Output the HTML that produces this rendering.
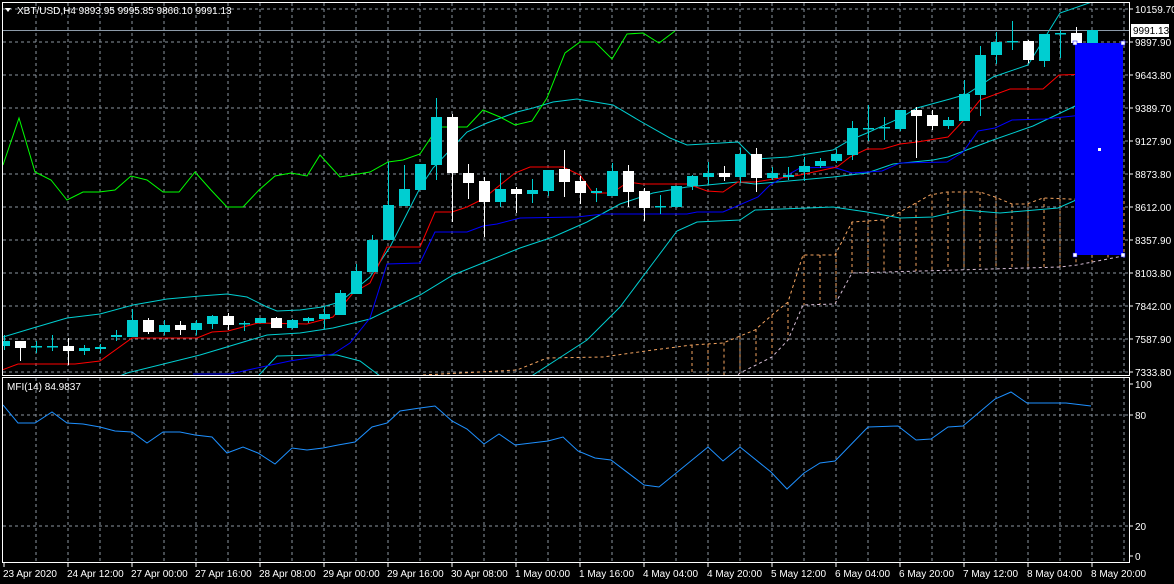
<!DOCTYPE html>
<html><head><meta charset="utf-8"><style>
html,body{margin:0;padding:0;background:#000;}
svg{display:block;}
text{font-family:"Liberation Sans",sans-serif;font-size:10px;fill:#fff;}
</style></head><body>
<svg id="c" width="1174" height="584" xmlns="http://www.w3.org/2000/svg"></svg>
<script>
const S=document.getElementById('c');let h='';
h+='<rect x="0" y="0" width="1174" height="584" fill="#000"/>';
const gy=[9,42,75,108,141,174,207,240,273,306,339,372];
const gl=['10159.70','9897.90','9643.80','9389.70','9127.90','8873.80','8612.00','8357.90','8103.80','7842.00','7587.90','7333.80'];
let g='';
for(const y of gy) g+=`M3 ${y}H1129`;
for(let n=1;n<=35;n++){let x=4+32*n;g+=`M${x} 3V375M${x} 378V562`;}
for(const y of [415,526]) g+=`M3 ${y}H1129`;
h+=`<path d="${g}" stroke="#8c96a0" stroke-width="1" stroke-dasharray="3,3" fill="none"/>`;
gy.forEach((y,i)=>{h+=`<line x1="1129" y1="${y}" x2="1133" y2="${y}" stroke="#fff"/><text x="1135" y="${y+4}">${gl[i]}</text>`;});
[[384,'100'],[415,'80'],[526,'20'],[556,'0']].forEach(([y,t])=>{h+=`<line x1="1129" y1="${y}" x2="1133" y2="${y}" stroke="#fff"/><text x="1135" y="${y+4}">${t}</text>`;});
const A=[[423,375],[517,370],[547,358],[603,357],[653,350],[692,345],[723,343],[755,330],[772,315],[788,302],[803,255],[835,255],[852,222],[883,220],[900,212],[930,195],[947,192],[980,192],[995,197],[1012,204],[1027,204],[1043,198],[1123,201]];
const B=[[690,420],[740,373],[772,357],[788,340],[803,305],[835,304],[852,273],[1060,267],[1077,265],[1123,256]];
function interp(P,x){if(x<=P[0][0])return P[0][1];for(let i=1;i<P.length;i++){if(x<=P[i][0]){const [x0,y0]=P[i-1],[x1,y1]=P[i];return y0+(y1-y0)*(x-x0)/(x1-x0);}}return P[P.length-1][1];}
let v='';
for(let x=692;x<=1124;x+=16){const a=interp(A,x),b=Math.min(interp(B,x),376);if(b>a)v+=`M${x} ${a}V${b}`;}
h+='<defs><clipPath id="cp"><rect x="3" y="3" width="1126" height="372"/></clipPath><clipPath id="cp2"><rect x="3" y="378" width="1126" height="184"/></clipPath></defs>';
h+='<g clip-path="url(#cp)">';
h+=`<path d="${v}" stroke="#f4a460" stroke-dasharray="3,3" fill="none"/>`;
const pl=(P,c,extra='')=>`<polyline points="${P.map(p=>p.join(',')).join(' ')}" stroke="${c}" fill="none" stroke-width="1" ${extra}/>`;
h+=pl(A,'#f4a460','stroke-dasharray="3,3"');
h+=pl(B,'#d8bfd8','stroke-dasharray="3,3"');
h+=pl([[3,337],[33,328],[67,318],[100,314],[133,305],[167,299],[200,296],[227,294],[247,297],[267,307],[277,311],[300,310],[322,307],[340,302],[370,277],[390,247],[420,188],[433,168],[467,132],[487,123],[517,112],[533,108],[553,102],[577,99],[613,105],[640,121],[670,138],[687,145],[738,142],[755,159],[788,157],[833,150],[850,140],[867,133],[900,118],[917,108],[950,99],[967,94],[993,77],[1028,65],[1060,13],[1092,2]],'#00ced1');
h+=pl([[110,380],[127,373],[200,355],[267,335],[300,333],[333,328],[370,319],[420,295],[453,275],[520,248],[553,237],[587,222],[620,204],[653,193],[687,187],[738,182],[755,184],[833,177],[867,173],[893,164],[933,160],[948,157],[993,140],[1033,126],[1092,98]],'#00ced1');
h+=pl([[255,380],[260,374],[277,356],[317,355],[337,355],[360,361],[380,376]],'#00ced1');
h+=pl([[525,380],[533,375],[587,340],[620,307],[653,263],[677,231],[697,222],[740,220],[755,210],[833,207],[867,212],[900,218],[933,217],[963,210],[1000,213],[1058,208],[1092,193]],'#00ced1');
h+=pl([[3,165],[19,118],[35,172],[51,180],[67,200],[83,192],[99,192],[115,190],[131,176],[147,180],[163,192],[179,192],[195,172],[211,190],[227,207],[243,207],[259,190],[275,176],[291,173],[307,176],[320,155],[340,177],[370,172],[388,162],[403,160],[420,154],[438,127],[467,127],[483,110],[500,117],[515,125],[532,121],[547,98],[565,53],[580,42],[595,42],[612,59],[627,34],[643,33],[659,43],[675,31]],'#00ff00');
h+=pl([[193,374],[230,374],[257,368],[290,361],[333,354],[350,343],[370,318],[387,264],[420,263],[435,232],[467,232],[483,226],[497,224],[520,218],[577,217],[603,214],[687,214],[697,212],[723,212],[758,197],[770,185],[800,168],[833,167],[852,173],[882,171],[900,163],[947,162],[963,152],[978,131],[995,128],[1012,120],[1045,119],[1092,114]],'#0000ff');
h+=pl([[2,370],[18,364],[75,364],[100,361],[132,338],[197,338],[212,332],[228,331],[258,323],[307,324],[333,317],[353,293],[370,283],[387,247],[420,247],[435,212],[452,212],[467,207],[483,199],[500,185],[515,173],[530,167],[563,167],[580,175],[593,193],[612,193],[628,182],[642,184],[688,184],[707,191],[723,192],[738,182],[755,182],[800,175],[837,167],[850,157],[867,149],[883,149],[900,144],[917,142],[948,137],[963,121],[980,100],[1010,89],[1043,89],[1059,75],[1092,74]],'#ff0000');
h+='<line x1="3" y1="30.5" x2="1129" y2="30.5" stroke="#8c9aa8"/>';
const C=[[346,341,335,350],[341,348,341,361],[346,346,341,353],[346,346,335,351],[346,351,338,365],[351,348,345,355],[349,347,344,353],[337,335,330,341],[337,320,309,337],[320,332,318,334],[332,325,320,335],[325,330,321,335],[330,323,320,335],[324,316,315,329],[316,325,313,330],[324,323,321,331],[323,318,318,323],[318,328,317,328],[328,320,319,329],[321,318,317,323],[319,314,307,329],[315,293,290,315],[294,271,264,294],[272,240,235,272],[240,205,162,240],[206,189,165,206],[190,164,164,190],[165,117,98,180],[117,173,114,222],[173,183,164,199],[181,202,177,237],[202,189,173,207],[189,194,187,213],[194,190,179,203],[191,170,170,196],[169,182,150,197],[181,193,176,204],[193,191,188,202],[196,171,163,196],[171,192,165,207],[191,208,188,221],[207,206,195,214],[207,186,186,207],[186,176,175,190],[177,173,162,185],[173,177,166,181],[177,154,148,183],[154,178,148,192],[178,173,167,180],[177,175,167,180],[172,166,157,181],[166,161,158,168],[161,154,149,163],[155,128,121,160],[129,128,105,141],[128,127,117,140],[129,110,110,131],[110,116,107,158],[115,126,110,130],[126,120,117,129],[121,94,80,121],[95,55,46,116],[55,42,32,64],[42,41,21,50],[41,60,40,63],[61,34,34,67],[34,33,30,58],[33,43,27,46],[43,30,30,43]];
C.forEach((k,i)=>{const x=4+16*i,[o,c,hi,lo]=k;const col=c>o?'#ffffff':'#00ced1';const t=Math.min(o,c),b=Math.max(o,c);
h+=`<line x1="${x+.5}" y1="${hi}" x2="${x+.5}" y2="${lo}" stroke="${col}"/>`;
h+=`<rect x="${x-5}" y="${t}" width="11" height="${Math.max(b-t,1.5)}" fill="${col}"/>`;});
h+='</g>';
h+='<rect x="1075" y="43" width="48" height="212" fill="#0000ff"/>';
for(const [x,y] of [[1075,43],[1123,43],[1075,255],[1123,255]]) h+=`<rect x="${x-2}" y="${y-2}" width="4" height="4" fill="#fff" stroke="#0000ff" stroke-width="0.5"/>`;
h+='<rect x="1098" y="148" width="3" height="3" fill="#fff"/>';
h+='<rect x="2.5" y="2.5" width="1127" height="373" fill="none" stroke="#fff"/>';
h+='<rect x="2.5" y="377.5" width="1127" height="185" fill="none" stroke="#fff"/>';
h+='<rect x="1131" y="24" width="38" height="13" fill="#fff"/><text x="1133" y="34" style="fill:#000">9991.13</text>';
h+='<path d="M5 8L11 8L8 12Z" fill="#fff"/><text x="17" y="14">XBT/USD,H4  9893.95 9995.85 9866.10 9991.13</text>';
h+='<g clip-path="url(#cp2)">'+pl([[3,405],[18,423],[35,423],[52,412],[67,423],[83,424],[100,427],[115,431],[132,432],[147,443],[163,432],[180,432],[195,435],[212,437],[227,453],[243,447],[258,453],[275,464],[292,448],[307,450],[323,448],[338,445],[355,442],[372,427],[387,423],[400,411],[420,408],[435,406],[452,421],[467,429],[484,444],[499,434],[515,445],[548,441],[563,437],[578,451],[595,458],[611,460],[644,485],[659,487],[708,447],[723,461],[740,447],[771,472],[787,489],[804,473],[820,463],[835,461],[868,427],[898,426],[916,440],[931,439],[948,427],[963,426],[995,399],[1011,392],[1027,403],[1066,403],[1091,406]],'#1e90ff')+'</g>';
h+='<text x="7" y="390">MFI(14) 84.9837</text>';
const D=['23 Apr 2020','24 Apr 12:00','27 Apr 00:00','27 Apr 16:00','28 Apr 08:00','29 Apr 00:00','29 Apr 16:00','30 Apr 08:00','1 May 00:00','1 May 16:00','4 May 04:00','4 May 20:00','5 May 12:00','6 May 04:00','6 May 20:00','7 May 12:00','8 May 04:00','8 May 20:00'];
D.forEach((t,i)=>{const x=4+64*i;h+=`<line x1="${x}" y1="563" x2="${x}" y2="567" stroke="#fff"/><text x="${x-1}" y="577">${t}</text>`;});
S.innerHTML=h;
</script>
</body></html>
